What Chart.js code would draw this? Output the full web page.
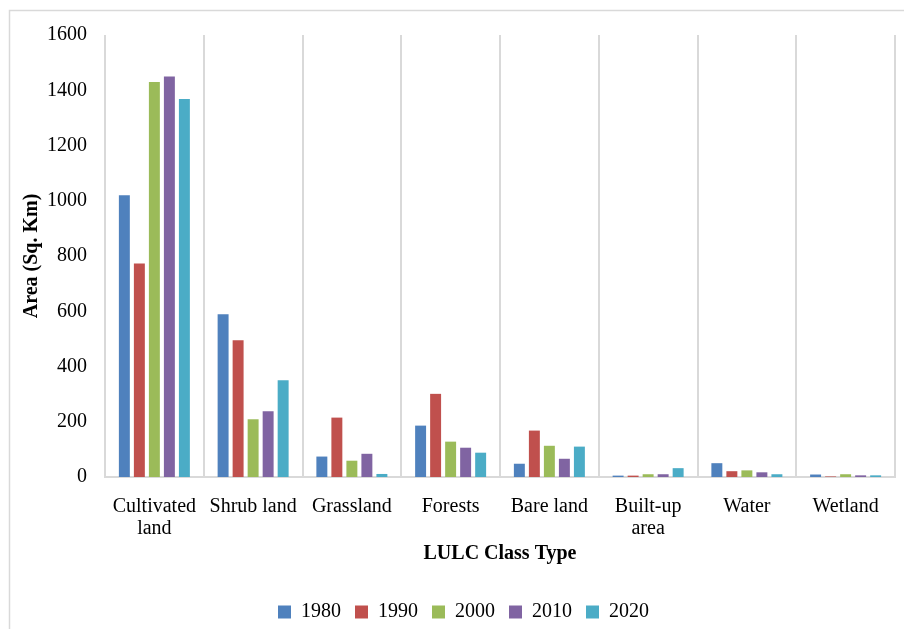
<!DOCTYPE html>
<html>
<head>
<meta charset="utf-8">
<script src="https://cdn.jsdelivr.net/npm/chart.js@4/dist/chart.umd.min.js"></script>
<style>
  html, body { margin: 0; padding: 0; background: #fff; }
  #wrap { position: relative; width: 904px; height: 629px; }
</style>
</head>
<body>
<div id="wrap"><canvas id="c" width="904" height="629"></canvas></div>
<script>
const categories = [["Cultivated", "land"], "Shrub land", "Grassland", "Forests", "Bare land", ["Built-up", "area"], "Water", "Wetland"];
const years = ["1980", "1990", "2000", "2010", "2020"];
const values1980 = [1020, 589, 74, 186, 48, 5, 50, 9];
const values1990 = [773, 495, 215, 301, 168, 5, 21, 2];
const values2000 = [1430, 209, 59, 128, 113, 10, 24, 10];
const values2010 = [1450, 238, 84, 106, 66, 10, 17, 6];
const values2020 = [1368, 350, 11, 88, 110, 32, 10, 6];
const colors = ["#4f81bd", "#c0504d", "#9bbb59", "#8064a2", "#4bacc6"];
const yTicks = [0, 200, 400, 600, 800, 1000, 1200, 1400, 1600];

const seriesValues = [values1980, values1990, values2000, values2010, values2020];
const FONT = "'Liberation Serif', 'Times New Roman', serif";

const framePlugin = {
  id: 'frame',
  beforeDraw(chart) {
    const ctx = chart.ctx;
    ctx.save();
    ctx.strokeStyle = '#d9d9d9';
    ctx.lineWidth = 1.5;
    ctx.beginPath();
    ctx.moveTo(9.5, 629);
    ctx.lineTo(9.5, 10.5);
    ctx.lineTo(904, 10.5);
    ctx.stroke();
    ctx.restore();
  }
};

const legendShift = {
  id: 'legendShift',
  afterLayout(chart) {
    if (chart.legend) {
      chart.legend.left += 16;
      chart.legend.right += 16;
    }
  }
};

new Chart(document.getElementById('c'), {
  type: 'bar',
  data: {
    labels: categories,
    datasets: years.map((y, i) => ({
      label: y,
      data: seriesValues[i],
      backgroundColor: colors[i],
      borderWidth: 0,
      categoryPercentage: 0.76,
      barPercentage: 0.73
    }))
  },
  options: {
    responsive: false,
    animation: false,
    devicePixelRatio: 1,
    layout: { padding: { left: 0, right: 9, top: 35, bottom: -3 } },
    plugins: {
      tooltip: { enabled: false },
      legend: {
        position: 'bottom',
        labels: {
          font: { family: FONT, size: 20 },
          color: '#000',
          boxWidth: 13,
          boxHeight: 13,
          padding: 14
        }
      }
    },
    scales: {
      x: {
        offset: true,
        grid: { display: true, offset: true, color: '#d9d9d9', lineWidth: 2, drawTicks: false },
        border: { display: true, color: '#d9d9d9', width: 2 },
        ticks: {
          font: { family: FONT, size: 20, lineHeight: 1.1 },
          color: '#000',
          padding: 19,
          maxRotation: 0,
          autoSkip: false
        },
        title: {
          display: true,
          text: 'LULC Class Type',
          font: { family: FONT, size: 20, weight: 'bold' },
          color: '#000',
          padding: { top: 0, bottom: 22 }
        },
        afterFit(s) { s.height = 111; }
      },
      y: {
        min: 0,
        max: 1600,
        afterBuildTicks(s) { s.ticks = yTicks.map(v => ({ value: v })); },
        grid: { display: false, drawTicks: false },
        border: { display: false },
        ticks: {
          font: { family: FONT, size: 20 },
          color: '#000',
          padding: 18,
          callback: (v) => String(v)
        },
        title: {
          display: true,
          text: 'Area (Sq. Km)',
          font: { family: FONT, size: 20, weight: 'bold' },
          color: '#000',
          padding: { top: 20, bottom: 0 }
        },
        afterFit(s) { s.width = 105; }
      }
    }
  },
  plugins: [framePlugin, legendShift]
});
</script>
</body>
</html>
